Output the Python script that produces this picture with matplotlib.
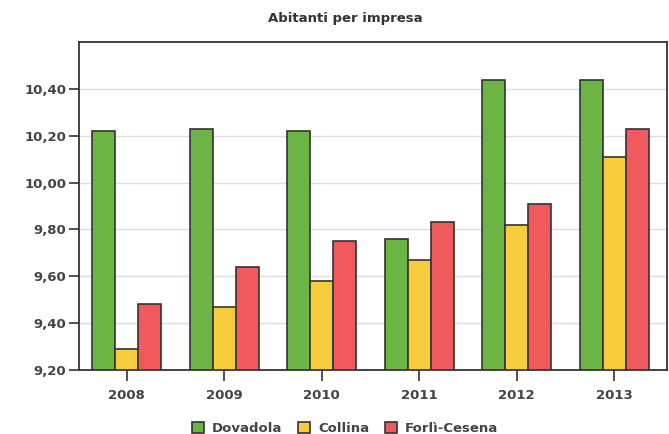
import matplotlib
matplotlib.use('Agg')
import matplotlib.pyplot as plt
import numpy as np
from matplotlib.ticker import FuncFormatter

years = ['2008', '2009', '2010', '2011', '2012', '2013']
dovadola = [10.22, 10.23, 10.22, 9.76, 10.44, 10.44]
collina = [9.29, 9.47, 9.58, 9.67, 9.82, 10.11]
forli_cesena = [9.48, 9.64, 9.75, 9.83, 9.91, 10.23]

series = ['Dovadola', 'Collina', 'Forlì-Cesena']
colors = ['#6cb545', '#f7cd3e', '#f05a5c']

fig = plt.figure(figsize=(6.69, 4.34), dpi=100)
ax = fig.add_axes([0.118, 0.1475, 0.879, 0.7555])

x = np.arange(len(years))
w = 0.235
for i, (vals, name, c) in enumerate(zip([dovadola, collina, forli_cesena], series, colors)):
    ax.bar(x + (i - 1) * w, np.array(vals) - 9.2, w, bottom=9.2, color=c,
           edgecolor='#333333', linewidth=1.2, label=name, zorder=3)

ax.set_ylim(9.2, 10.6)
ax.set_xlim(-0.49, 5.54)
ax.set_yticks([9.2, 9.4, 9.6, 9.8, 10.0, 10.2, 10.4])
ax.yaxis.set_major_formatter(FuncFormatter(lambda v, p: f'{v:.2f}'.replace('.', ',')))
ax.set_xticks(x)
ax.set_xticklabels(years)
ax.grid(axis='y', color='#dddddd', linewidth=1, zorder=0)
for lab in ax.get_xticklabels() + ax.get_yticklabels():
    lab.set_fontweight('bold')
    lab.set_color('#444444')
    lab.set_fontsize(9.5)
ax.tick_params(axis='y', length=7, width=1.2, color='#333333', pad=2)
ax.tick_params(axis='x', length=8, width=1.2, color='#333333', pad=6)
for s in ax.spines.values():
    s.set_color('#333333')
    s.set_linewidth(1.3)

fig.text(345 / 669, 0.957, 'Abitanti per impresa', ha='center', va='center',
         fontsize=9.5, fontweight='bold', color='#333333')
leg = fig.legend(loc='center', bbox_to_anchor=(345 / 669, 0.012), ncol=3, frameon=False,
                 handlelength=0.9, handleheight=0.9, columnspacing=1.2, handletextpad=0.6,
                 prop={'weight': 'bold', 'size': 9.5})
for t in leg.get_texts():
    t.set_color('#444444')

fig.savefig('out.png', dpi=100)
